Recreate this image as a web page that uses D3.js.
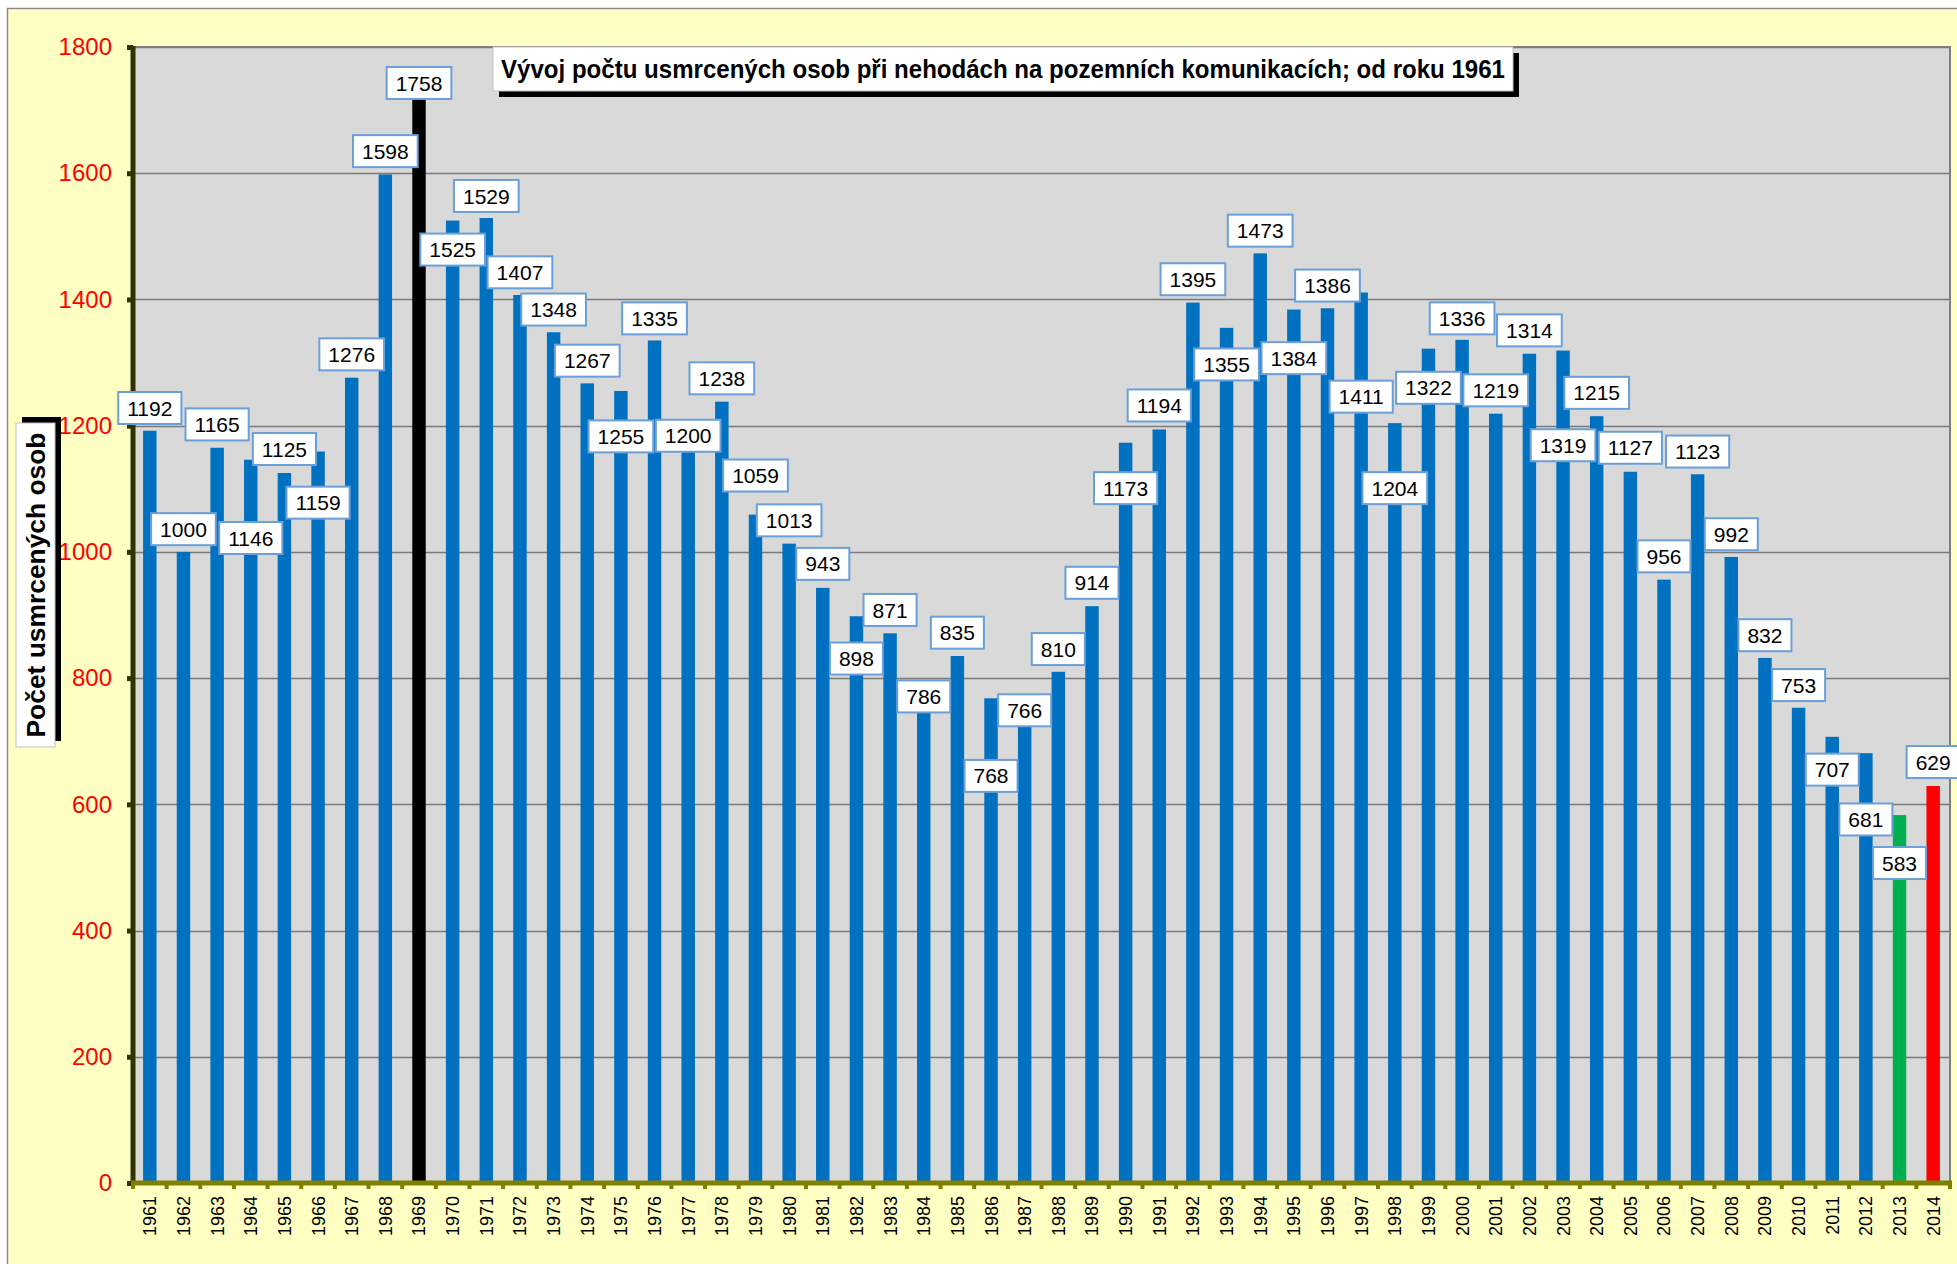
<!DOCTYPE html>
<html lang="cs">
<head>
<meta charset="utf-8">
<title>Vývoj počtu usmrcených osob</title>
<script src="https://cdn.jsdelivr.net/npm/d3@7"></script>
<style>
  body { margin: 0; background: #fff; }
  svg { display: block; font-family: "Liberation Sans", Arial, sans-serif; }
</style>
</head>
<body>

<svg id="chart" width="1957" height="1264"></svg>

<script>
// data
var years = ["1961","1962","1963","1964","1965","1966","1967","1968","1969","1970",
             "1971","1972","1973","1974","1975","1976","1977","1978","1979","1980",
             "1981","1982","1983","1984","1985","1986","1987","1988","1989","1990",
             "1991","1992","1993","1994","1995","1996","1997","1998","1999","2000",
             "2001","2002","2003","2004","2005","2006","2007","2008","2009","2010",
             "2011","2012","2013","2014"];

var deaths = [1192,1000,1165,1146,1125,1159,1276,1598,1758,1525,
              1529,1407,1348,1267,1255,1335,1200,1238,1059,1013,
              943,898,871,786,835,768,766,810,914,1173,
              1194,1395,1355,1473,1384,1386,1411,1204,1322,1336,
              1219,1314,1319,1215,1127,956,1123,992,832,753,
              707,681,583,629];

// value (in persons) where each data label box is centred, as placed in the original
var labelAt = [1228,1036,1202,1022,1163,1078,1313,1635,1743,1479,
               1564,1443,1384,1303,1183,1370,1184,1275,1121,1050,
               981,831,908,771,872,645,749,846,951,1101,
               1232,1432,1297,1509,1307,1422,1246,1101,1260,1370,
               1256,1351,1169,1252,1165,993,1159,1028,868,789,
               655,576,507,667];

var yTicks = [0,200,400,600,800,1000,1200,1400,1600,1800];

var titleText = "Vývoj počtu usmrcených osob při nehodách na pozemních komunikacích; od roku 1961";
var yAxisTitle = "Počet usmrcených osob";

// special bar colours
var highlight = {"1969": "#000000", "2013": "#00b050", "2014": "#ff0000"};
var barColor = "#0070c0";

/////////////////////
// layout
var svg = d3.select("#chart");
var margin = {top: 47, right: 7, bottom: 81, left: 133};
var width = 1957 - margin.left - margin.right,
    height = 1264 - margin.top - margin.bottom;

var x = d3.scaleBand()
    .domain(years)
    .range([0, width])
    .paddingInner(0.6)
    .paddingOuter(0.3);

var y = d3.scaleLinear()
    .domain([0, 1800])
    .range([height, 0]);

// outer frame
svg.append("rect")
    .attr("x", 7.5).attr("y", 8.5)
    .attr("width", 1990).attr("height", 1300)
    .attr("fill", "#ffffc4")
    .attr("stroke", "#8a8a8a")
    .attr("stroke-width", 1.5);

var g = svg.append("g")
    .attr("transform", "translate(" + margin.left + "," + margin.top + ")");

// plot area
g.append("rect")
    .attr("width", width).attr("height", height)
    .attr("fill", "#d9d9d9")
    .attr("stroke", "#808080")
    .attr("stroke-width", 2);

// gridlines
g.append("g")
    .selectAll("line")
    .data(yTicks.filter(function(d) { return d > 0; }))
    .join("line")
    .attr("x1", 0).attr("x2", width)
    .attr("y1", function(d) { return Math.round(y(d)) + 0.5; })
    .attr("y2", function(d) { return Math.round(y(d)) + 0.5; })
    .attr("stroke", "#7a7a7a")
    .attr("stroke-width", 1.3);

// bars
g.append("g")
    .selectAll("rect")
    .data(deaths)
    .join("rect")
    .attr("x", function(d, i) { return x(years[i]); })
    .attr("width", x.bandwidth())
    .attr("y", function(d) { return y(d); })
    .attr("height", function(d) { return height - y(d); })
    .attr("fill", function(d, i) { return highlight[years[i]] || barColor; });

// left axis
var yAxis = d3.axisLeft(y)
    .tickValues(yTicks)
    .tickFormat(d3.format("d"))
    .tickSize(6)
    .tickPadding(15);

var yAx = g.append("g").call(yAxis);
yAx.select(".domain")
    .attr("d", "M0," + (-1) + "V" + (height + 2))
    .attr("stroke", "#333300")
    .attr("stroke-width", 5);
yAx.selectAll(".tick line")
    .attr("stroke", "#333300")
    .attr("stroke-width", 5);
yAx.selectAll(".tick text")
    .attr("fill", "#ff0000")
    .attr("font-size", 24)
    .attr("x", -21);

// bottom axis, ticks between categories
var xAx = g.append("g").attr("transform", "translate(0," + height + ")");
xAx.append("line")
    .attr("x1", -2).attr("x2", width + 2)
    .attr("stroke", "#808000")
    .attr("stroke-width", 5);
xAx.append("g")
    .selectAll("line")
    .data(years)
    .join("line")
    .attr("x1", function(d) { return x(d) - x.step() * x.paddingInner() / 2; })
    .attr("x2", function(d) { return x(d) - x.step() * x.paddingInner() / 2; })
    .attr("y1", 0).attr("y2", 6)
    .attr("stroke", "#808000")
    .attr("stroke-width", 4);
xAx.append("line")
    .attr("x1", width).attr("x2", width)
    .attr("y1", 0).attr("y2", 6)
    .attr("stroke", "#808000")
    .attr("stroke-width", 4);
xAx.append("g")
    .selectAll("text")
    .data(years)
    .join("text")
    .attr("transform", function(d) {
      return "translate(" + (x(d) + x.bandwidth() / 2) + ",13) rotate(-90)";
    })
    .attr("text-anchor", "end")
    .attr("dy", "0.36em")
    .attr("font-size", 18)
    .attr("fill", "#000")
    .text(function(d) { return d; });

// data labels
var lab = g.append("g")
    .selectAll("g")
    .data(deaths)
    .join("g")
    .attr("transform", function(d, i) {
      return "translate(" + (x(years[i]) + x.bandwidth() / 2) + "," + y(labelAt[i]) + ")";
    });

lab.append("text")
    .attr("text-anchor", "middle")
    .attr("dy", "0.36em")
    .attr("font-size", 21)
    .attr("fill", "#000")
    .text(function(d) { return d; });

lab.insert("rect", "text")
    .each(function() {
      var w = this.parentNode.querySelector("text").getComputedTextLength() + 18;
      d3.select(this)
        .attr("x", -w / 2).attr("y", -16)
        .attr("width", w).attr("height", 32);
    })
    .attr("fill", "#fff")
    .attr("stroke", "#6a9fd8")
    .attr("stroke-width", 2);

// boxed titles with black drop shadow
function shadowBox(parent, cx, cy, rot, w, h, txt, font, size, len) {
  var b = parent.append("g")
      .attr("transform", "translate(" + cx + "," + cy + ") rotate(" + rot + ")");
  b.append("rect")
      .attr("x", -w / 2 + 6).attr("y", -h / 2 + 6)
      .attr("width", w).attr("height", h)
      .attr("fill", "#000");
  b.append("rect")
      .attr("x", -w / 2).attr("y", -h / 2)
      .attr("width", w).attr("height", h)
      .attr("fill", "#fff")
      .attr("stroke", "#c0c0c0")
      .attr("stroke-width", 1);
  var t = b.append("text")
      .attr("text-anchor", "middle")
      .attr("dy", "0.36em")
      .attr("font-family", font)
      .attr("font-weight", "bold")
      .attr("font-size", size)
      .text(txt);
  if (len) t.attr("textLength", len).attr("lengthAdjust", "spacingAndGlyphs");
}

shadowBox(svg, 1003, 69, 0, 1020, 44, titleText,
          "'Liberation Sans Narrow', 'Arial Narrow', 'Liberation Sans', sans-serif", 25, 1004);
shadowBox(svg, 35.5, 585, -90, 324, 39, yAxisTitle,
          "'Liberation Sans', Arial, sans-serif", 25, 305);
</script>
</body>
</html>
